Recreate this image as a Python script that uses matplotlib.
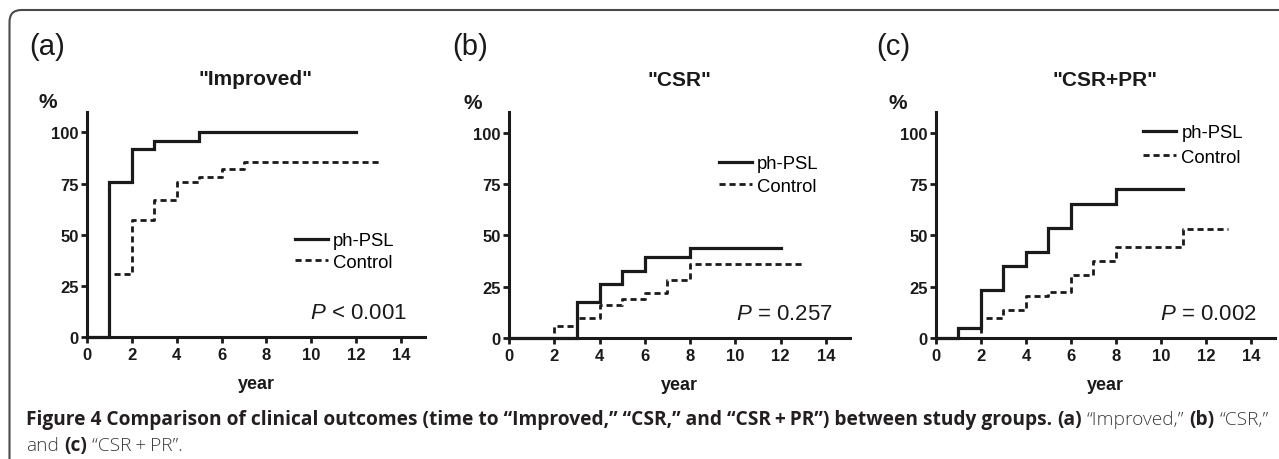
import matplotlib
matplotlib.use("Agg")
import matplotlib.pyplot as plt
from matplotlib.path import Path
from matplotlib.patches import PathPatch
from matplotlib.transforms import IdentityTransform

plt.rcParams['font.family'] = ['Liberation Sans', 'DejaVu Sans']
plt.rcParams['mathtext.fontset'] = 'custom'
plt.rcParams['mathtext.rm'] = 'Liberation Sans'
plt.rcParams['mathtext.it'] = 'Liberation Sans:italic'
plt.rcParams['mathtext.bf'] = 'Liberation Sans:bold'

# ---------------- data ----------------
panel_labels = ["(a)", "(b)", "(c)"]
titles = ['"Improved"', '"CSR"', '"CSR+PR"']
p_texts = ["$\\mathit{P}$ < 0.001", "$\\mathit{P}$ = 0.257", "$\\mathit{P}$ = 0.002"]
series_names = ["ph-PSL", "Control"]

a_psl_t = [0, 1, 2, 3, 5, 12]
a_psl_v = [0, 76, 91.7, 95.8, 100, 100]
a_ctl_t = [0, 1, 2, 3, 4, 5, 6, 7, 13]
a_ctl_v = [0, 30.8, 57, 66.8, 75.8, 78.2, 82.3, 85.7, 85.7]

b_psl_t = [0, 3, 4, 5, 6, 8, 12]
b_psl_v = [0, 17.6, 26.2, 32.7, 39.3, 44.0, 44.0]
b_ctl_t = [0, 2, 3, 4, 5, 6, 7, 8, 13]
b_ctl_v = [0, 5.8, 9.7, 16.3, 19.2, 22.1, 28.2, 36.0, 36.0]

c_psl_t = [0, 1, 2, 3, 4, 5, 6, 8, 11]
c_psl_v = [0, 5.0, 23.3, 35.1, 42.1, 53.8, 65.1, 72.4, 72.4]
c_ctl_t = [0, 2, 3, 4, 5, 6, 7, 8, 11, 13]
c_ctl_v = [0, 9.7, 13.6, 20.4, 22.5, 30.6, 37.3, 44.4, 53.3, 53.3]

y_ticks = [0, 25, 50, 75, 100]
x_ticks = [0, 2, 4, 6, 8, 10, 12, 14]

caption_line1 = [
    ("Figure 4 Comparison of clinical outcomes (time to \u201cImproved,\u201d \u201cCSR,\u201d and \u201cCSR\u2009+\u2009PR\u201d) between study groups.", "bold"),
    ("(a)", "bold"), ("\u201cImproved,\u201d", "light"), ("(b)", "bold"), ("\u201cCSR,\u201d", "light"),
]
caption_line2 = [("and", "light"), ("(c)", "bold"), ("\u201cCSR\u2009+\u2009PR\u201d.", "light")]

# ---------------- figure ----------------
W, H = 1279, 460
fig = plt.figure(figsize=(W / 100, H / 100), dpi=100)

def px_axes(x0, x1, y_top, y_bot):
    return fig.add_axes([x0 / W, (H - y_bot) / H, (x1 - x0) / W, (y_bot - y_top) / H])

panels = [
    dict(box=(87, 425, 113, 338), psl=(a_psl_t, a_psl_v), ctl=(a_ctl_t, a_ctl_v),
         leg=(0.615, 0.38), pct_x=-0.115, lab_x=29, sp=0.22),
    dict(box=(509, 850, 113.3, 339), psl=(b_psl_t, b_psl_v), ctl=(b_ctl_t, b_ctl_v),
         leg=(0.616, 0.722), pct_x=-0.106, lab_x=452, sp=0.28),
    dict(box=(936, 1275, 113.3, 339), psl=(c_psl_t, c_psl_v), ctl=(c_ctl_t, c_ctl_v),
         leg=(0.611, 0.855), pct_x=-0.112, lab_x=876, sp=0.4),
]

ink = "#1a1a1a"
for i, p in enumerate(panels):
    x0, x1, yt, yb = p["box"]
    ax = px_axes(x0, x1, yt, yb)
    t, v = p["psl"]
    ax.step(t, v, where="post", color=ink, lw=2.3, solid_joinstyle="miter",
            label=series_names[0], zorder=4, clip_on=False)
    t, v = p["ctl"]
    ax.step(t, v, where="post", color=ink, lw=2.0, linestyle=(0, (2.2, 1.4)),
            label=series_names[1], zorder=3, clip_on=False)
    ax.set_xlim(0, 15.07)
    ax.set_ylim(0, 110)
    ax.set_xticks(x_ticks)
    ax.set_yticks(y_ticks)
    for s in ["top", "right"]:
        ax.spines[s].set_visible(False)
    for s in ["left", "bottom"]:
        ax.spines[s].set_linewidth(2.2)
        ax.spines[s].set_color(ink)
    ax.tick_params(direction="out", length=4.5, width=2.0, color=ink,
                   labelsize=12, labelcolor=ink)
    ax.tick_params(axis="y", pad=1.5)
    ax.tick_params(axis="x", pad=3)
    for lab in ax.get_xticklabels() + ax.get_yticklabels():
        lab.set_fontweight("bold")
    ax.set_facecolor("none")
    ax.text(0.5, 1.147, titles[i], transform=ax.transAxes, ha="center", va="center",
            fontsize=15, fontweight="bold", color=ink)
    ax.text(p["pct_x"], 1.045, "%", transform=ax.transAxes, ha="center", va="center",
            fontsize=15, fontweight="bold", color=ink)
    ax.text(0.5, -0.205, "year", transform=ax.transAxes, ha="center", va="center",
            fontsize=13, fontweight="bold", color=ink)
    ax.text(0.947, 0.11, p_texts[i], transform=ax.transAxes, ha="right", va="center",
            fontsize=16, color=ink)
    ax.legend(loc="center left", bbox_to_anchor=p["leg"], frameon=False,
              borderpad=0, borderaxespad=0, handlelength=1.8, handletextpad=0.27,
              labelspacing=p["sp"], prop={"size": 13.3})
    fig.text(p["lab_x"] / W, (H - 47) / H, panel_labels[i], ha="left", va="center",
             fontsize=21, color=ink)

# ---------------- border ----------------
r = 12
L, T = 9.5, H - 11.0
verts = [(L, -20), (L, T - r), (L, T), (L + r, T), (W + 20, T)]
codes = [Path.MOVETO, Path.LINETO, Path.CURVE3, Path.CURVE3, Path.LINETO]
fig.add_artist(PathPatch(Path(verts, codes), fill=False, edgecolor="#4a4a4a", lw=1.5,
                         transform=IdentityTransform()))

# ---------------- caption ----------------
renderer = fig.canvas.get_renderer()
cap_family = ["Open Sans", "DejaVu Sans"]

def draw_line(segs, x_start, y_base, size):
    objs = []
    x = x_start
    sp_t = fig.text(0, 0, "a a", fontsize=size, family=cap_family)
    sp_t2 = fig.text(0, 0, "aa", fontsize=size, family=cap_family)
    space = sp_t.get_window_extent(renderer).width - sp_t2.get_window_extent(renderer).width
    sp_t.remove(); sp_t2.remove()
    for s, w in segs:
        color = "#231f20" if w == "bold" else "#3c3c3c"
        t = fig.text(x / W, (H - y_base) / H, s, fontsize=size, fontweight=w,
                     family=cap_family, color=color, ha="left", va="baseline")
        bb = t.get_window_extent(renderer)
        objs.append(t)
        x = bb.x1 + space
    return objs, x - space

size = 12
objs, xend = draw_line(caption_line1, 26, 425, size)
for o in objs:
    o.remove()
size = size * (1262 - 26) / (xend - 26)
draw_line(caption_line1, 26, 425, size)
draw_line(caption_line2, 26, 451, size)

fig.savefig("out.png", dpi=100)
